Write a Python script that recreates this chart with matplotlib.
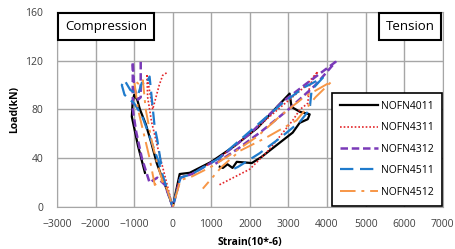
import numpy as np
import matplotlib.pyplot as plt

# series: strain (10^-6) and load (kN), compression branch then tension branch
names = ["NOFN4011", "NOFN4311", "NOFN4312", "NOFN4511", "NOFN4512"]

s4011 = [-720, -900, -1060, -1040, -1000, -920, -850, -700, -550, -415, -300, -150, 0,
         180, 440, 1000, 1600, 2200, 2700, 3030, 3080, 3300, 3550, 3500, 3290, 3110,
         2300, 2050, 1660, 1550, 1420, 1300, 1220]
l4011 = [28, 50, 74, 86, 92, 88, 80, 68, 52, 36, 26, 14, 0,
         27, 28, 37, 50, 65, 82, 93, 82, 78, 76, 72, 69, 61,
         41, 36, 37, 32, 35, 32, 33]

s4311 = [-160, -260, -350, -520, -600, -670, -650, -550, -400, -200, 0,
         180, 500, 1200, 2000, 2800, 3400, 3760, 3550, 3500, 3300, 3110, 2500, 2000, 1200]
l4311 = [110, 108, 100, 80, 95, 109, 90, 70, 50, 25, 0,
         24, 27, 40, 60, 82, 98, 111, 100, 85, 80, 71, 47, 31, 18]

s4312 = [-830, -830, -900, -1000, -1036, -1036, -950, -800, -700, -600, -400, -200, 0,
         200, 500, 1200, 2000, 2800, 3500, 4220, 3700, 3000, 2300, 1700, 1040]
l4312 = [119, 90, 88, 98, 119, 80, 62, 40, 30, 20, 24, 18, 0,
         24, 27, 40, 60, 85, 102, 119, 100, 80, 62, 48, 34]

s4511 = [-300, -400, -470, -540, -600, -700, -800, -900, -1100, -1250, -1320, -1250, -1000,
         -800, -600, -400, -200, 0,
         200, 500, 1200, 2000, 2800, 3400, 3890, 3600, 3550, 3300, 2800, 2250, 1700, 1500]
l4511 = [35, 55, 66, 88, 107, 100, 102, 92, 96, 104, 100, 92, 85,
         75, 58, 40, 20, 0,
         24, 27, 40, 62, 84, 98, 106, 96, 80, 70, 57, 44, 33, 30]

s4512 = [-250, -400, -550, -700, -775, -850, -1000, -900, -750, -600, -466, -300, -150, 0,
         200, 500, 1000, 1600, 2200, 2800, 3400, 4120, 3700, 3210, 2430, 1740, 1270, 780]
l4512 = [20, 35, 55, 80, 104, 100, 104, 80, 60, 40, 18, 22, 15, 0,
         22, 25, 33, 45, 58, 75, 90, 103, 90, 71, 57, 46, 33, 15]

xs = [s4011, s4311, s4312, s4511, s4512]
ys = [l4011, l4311, l4312, l4511, l4512]
colors = ["black", "#e3262a", "#7a3ab8", "#1f7bcc", "#f79646"]
styles = ["-", (0, (1, 1.2)), (0, (3, 1.5)), (0, (6, 3)), (0, (8, 3, 1.5, 3))]
widths = [1.6, 1.2, 1.8, 1.6, 1.4]

plt.rcParams['font.family'] = ['Open Sans', 'DejaVu Sans']
fig = plt.figure(figsize=(4.56, 2.49), dpi=100)
ax = fig.add_axes([0.125, 0.169, 0.846, 0.783])

for i in range(len(names)):
    ax.plot(xs[i], ys[i], color=colors[i], linestyle=styles[i], lw=widths[i], label=names[i])

ax.set_xlim(-3000, 7000)
ax.set_ylim(0, 160)
ax.set_xticks(np.arange(-3000, 7001, 1000))
ax.set_yticks(np.arange(0, 161, 40))
ax.grid(True, color="#a6a6a6", lw=1)
ax.set_axisbelow(True)
for sp in ax.spines.values():
    sp.set_color("#a6a6a6")
ax.tick_params(length=0, labelsize=7.5, colors="#404040")
ax.tick_params(axis="x", pad=9)
ax.tick_params(axis="y", pad=10)
ax.set_xlabel("Strain(10*-6)", fontsize=7.5, fontweight="bold", labelpad=5)
ax.set_ylabel("Load(kN)", fontsize=7.5, fontweight="bold", labelpad=4)

pad = 0.5 * 9.5
box = dict(boxstyle="square,pad=0.5", fc="white", ec="black", lw=1.5)
ax.annotate("Compression", xy=(0, 1), xycoords="axes fraction", xytext=(pad + 1, -pad - 1),
            textcoords="offset points", fontsize=9.5, va="top", ha="left", bbox=box)
ax.annotate("Tension", xy=(1, 1), xycoords="axes fraction", xytext=(-pad - 1, -pad - 1),
            textcoords="offset points", fontsize=9.5, va="top", ha="right", bbox=box)

leg = ax.legend(loc="lower right", fontsize=7.5, handlelength=3.6, labelspacing=1.0,
                borderpad=0.8, handletextpad=0.3, fancybox=False, framealpha=1,
                borderaxespad=0.1)
leg.get_frame().set_edgecolor("black")
leg.get_frame().set_linewidth(1.2)

fig.savefig("out.png", dpi=100)
